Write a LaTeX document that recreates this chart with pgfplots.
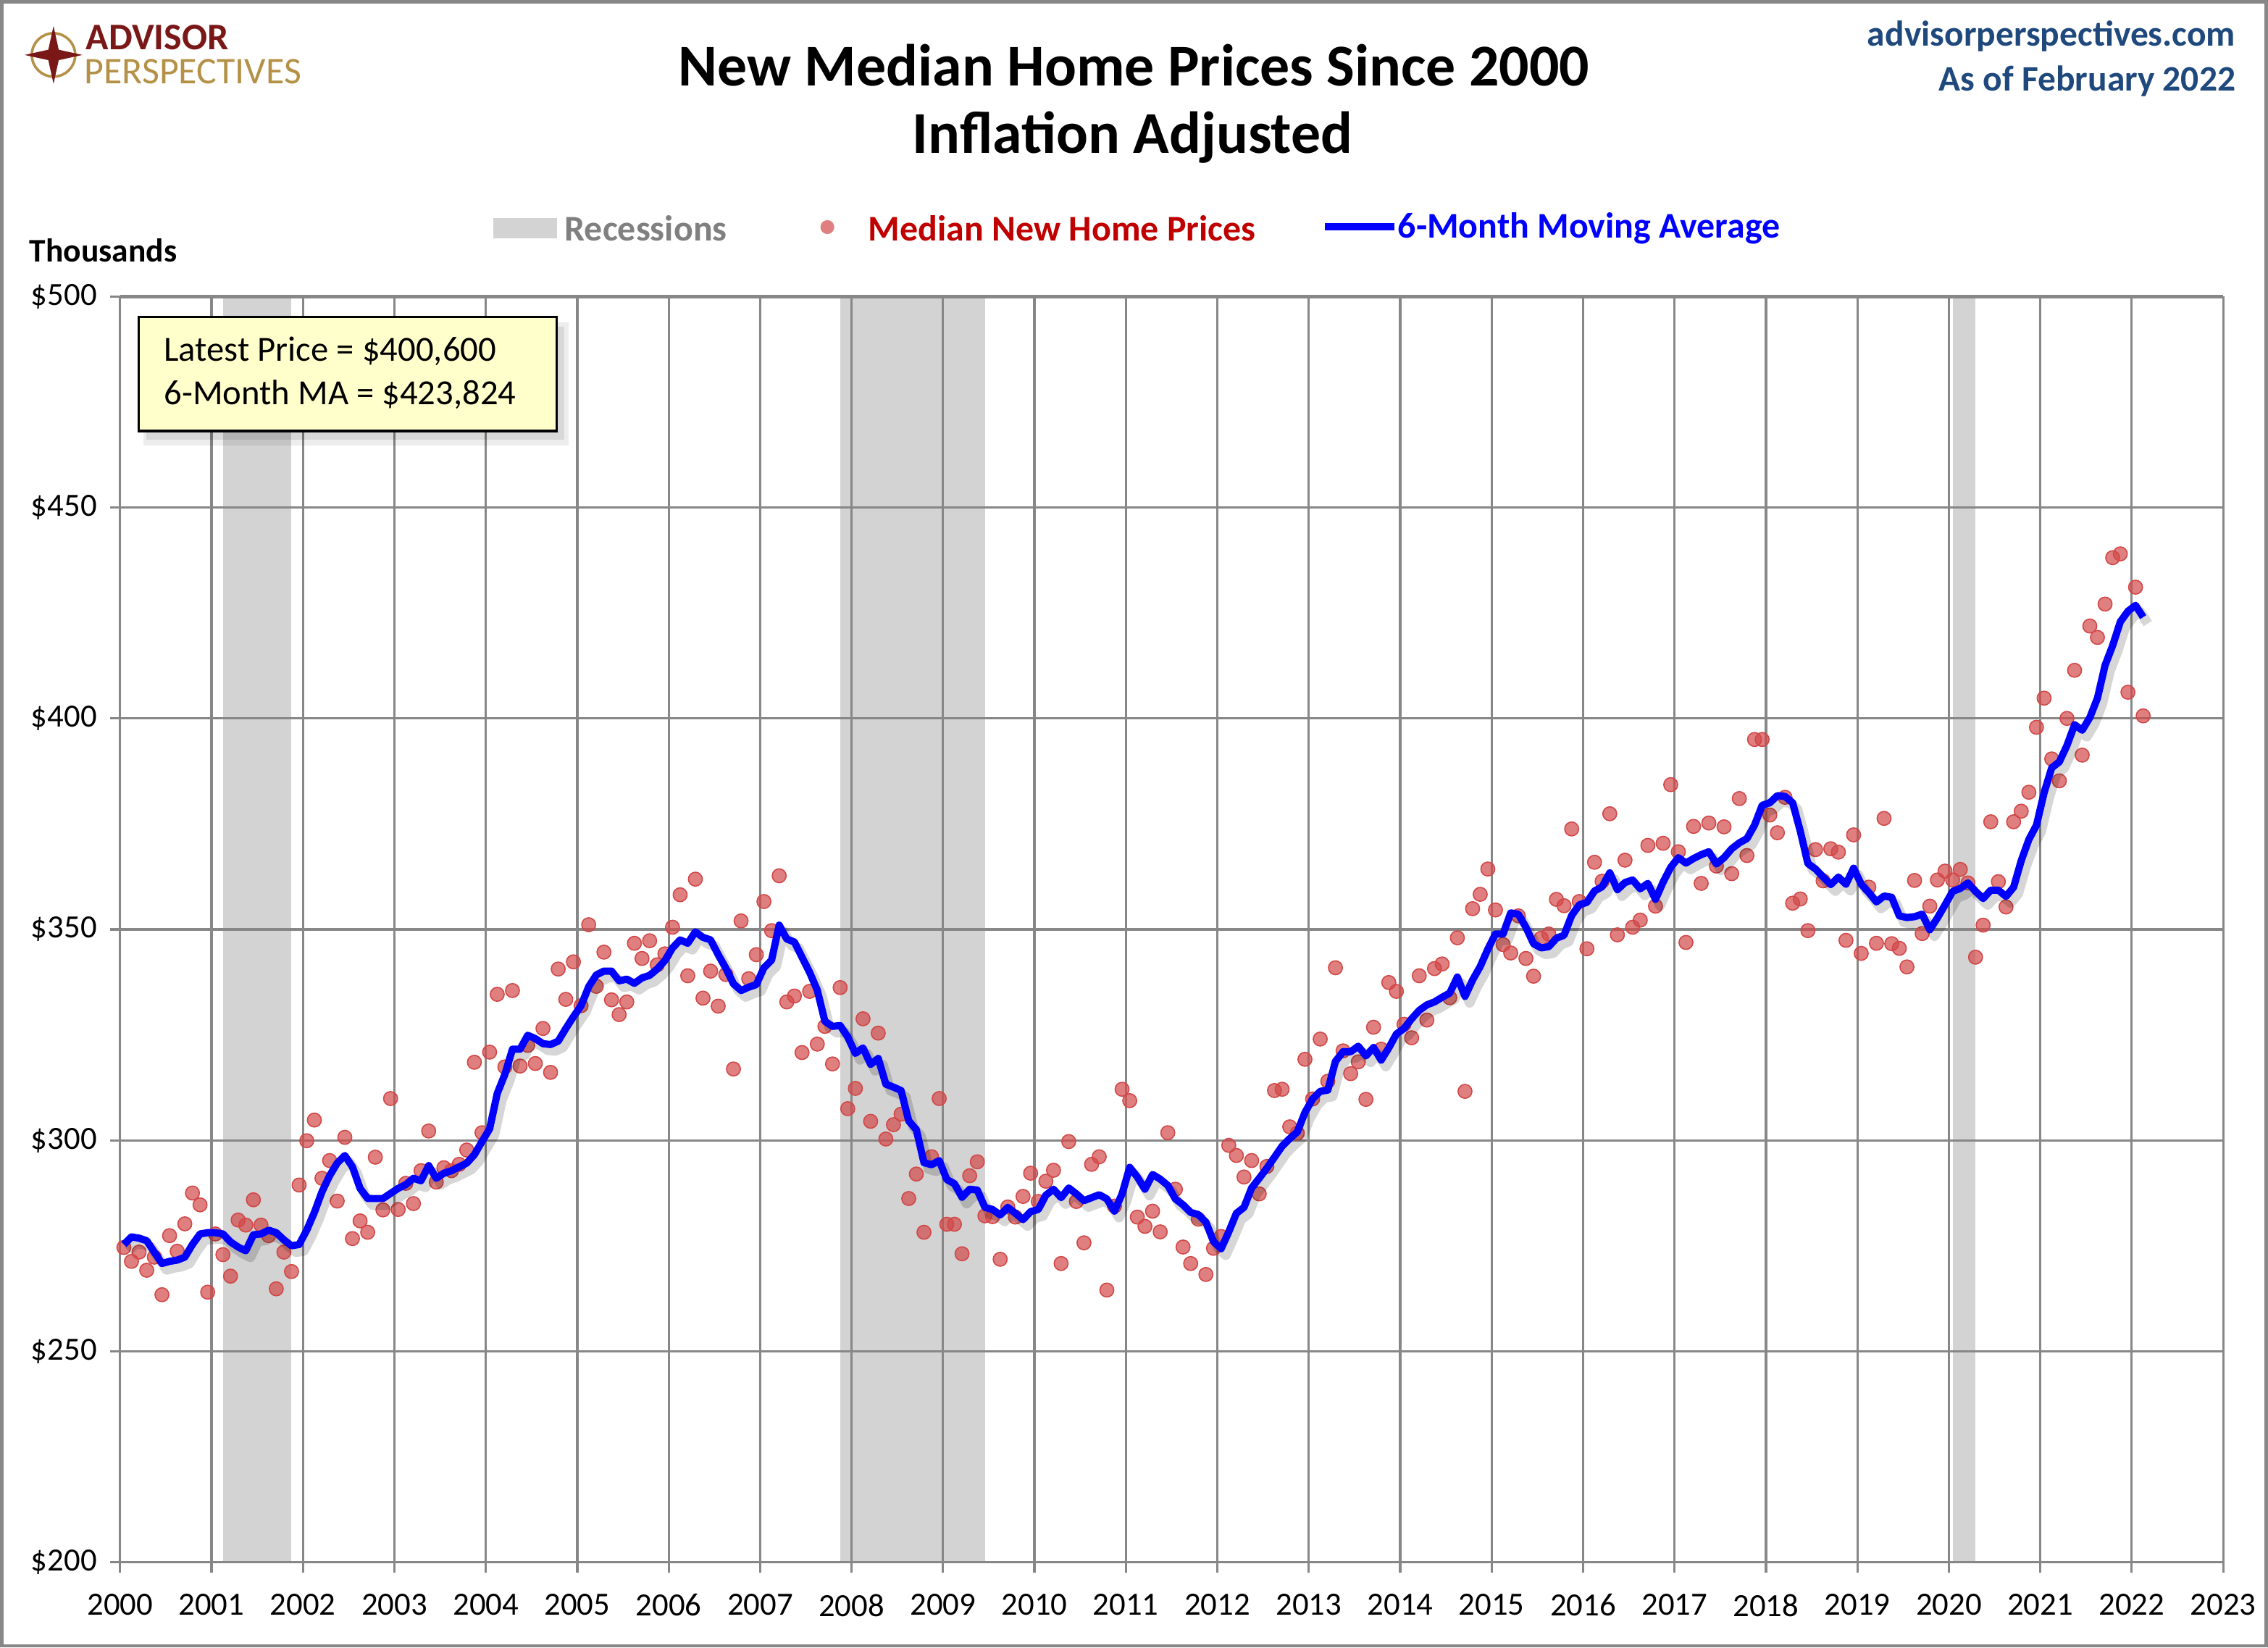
\documentclass[border=0pt]{standalone}
\usepackage{fontspec}
\setmainfont{Carlito}
\usepackage{pgfplots}
\usepackage{pgfplotstable}
\pgfplotsset{compat=1.18}
\definecolor{gridgray}{RGB}{135,135,135}
\definecolor{recgray}{RGB}{211,211,211}
\definecolor{dotred}{RGB}{210,72,72}
\definecolor{legred}{RGB}{192,0,0}
\definecolor{apblue}{RGB}{31,73,125}
\definecolor{boxyellow}{RGB}{255,255,204}
\definecolor{logored}{RGB}{122,24,24}
\definecolor{logogold}{RGB}{180,145,70}
\definecolor{leggray}{RGB}{128,128,128}

\pgfplotstableread[row sep=\\]{
y m p a\\
2000 1 274.6 275.3\\ 2000 2 271.3 277.1\\ 2000 3 273.5 276.8\\ 2000 4 269.2 276.2\\ 2000 5 272.3 273.5\\ 2000 6 263.4 270.8\\
2000 7 277.4 271.3\\ 2000 8 273.7 271.6\\ 2000 9 280.2 272.3\\ 2000 10 287.5 275.3\\ 2000 11 284.7 277.8\\ 2000 12 264.0 278.1\\
2001 1 277.8 278.1\\ 2001 2 272.9 277.8\\ 2001 3 267.8 275.9\\ 2001 4 281.1 274.7\\ 2001 5 279.9 273.8\\ 2001 6 285.9 277.6\\
2001 7 279.9 277.8\\ 2001 8 277.4 278.7\\ 2001 9 264.8 278.1\\ 2001 10 273.5 276.4\\ 2001 11 268.9 275.0\\ 2001 12 289.4 275.3\\
2002 1 299.9 278.7\\ 2002 2 304.8 282.9\\ 2002 3 291.0 287.8\\ 2002 4 295.2 291.6\\ 2002 5 285.6 294.6\\ 2002 6 300.7 296.4\\
2002 7 276.7 293.7\\ 2002 8 280.9 288.6\\ 2002 9 278.2 286.2\\ 2002 10 296.0 286.2\\ 2002 11 283.5 286.2\\ 2002 12 309.9 287.4\\
2003 1 283.6 288.6\\ 2003 2 289.8 289.5\\ 2003 3 285.0 291.0\\ 2003 4 292.8 290.4\\ 2003 5 302.2 294.0\\ 2003 6 290.1 291.0\\
2003 7 293.5 292.2\\ 2003 8 292.8 292.8\\ 2003 9 294.3 293.7\\ 2003 10 297.7 294.6\\ 2003 11 318.5 296.6\\ 2003 12 301.8 299.7\\
2004 1 320.9 302.7\\ 2004 2 334.6 311.1\\ 2004 3 317.4 315.6\\ 2004 4 335.5 321.6\\ 2004 5 317.6 321.6\\ 2004 6 322.5 324.9\\
2004 7 318.2 324.1\\ 2004 8 326.5 322.9\\ 2004 9 316.1 322.7\\ 2004 10 340.6 323.5\\ 2004 11 333.4 326.5\\ 2004 12 342.3 329.3\\
2005 1 331.9 331.9\\ 2005 2 351.1 336.4\\ 2005 3 336.5 339.2\\ 2005 4 344.6 340.1\\ 2005 5 333.3 340.1\\ 2005 6 329.8 337.8\\
2005 7 332.8 338.2\\ 2005 8 346.7 337.2\\ 2005 9 343.1 338.5\\ 2005 10 347.3 339.1\\ 2005 11 341.6 340.6\\ 2005 12 344.2 342.6\\
2006 1 350.5 345.6\\ 2006 2 358.2 347.5\\ 2006 3 339.0 346.7\\ 2006 4 361.9 349.4\\ 2006 5 333.7 348.1\\ 2006 6 340.1 347.5\\
2006 7 331.8 344.0\\ 2006 8 339.3 340.8\\ 2006 9 316.9 337.1\\ 2006 10 352.0 335.5\\ 2006 11 338.3 336.3\\ 2006 12 344.0 336.9\\
2007 1 356.6 340.9\\ 2007 2 349.7 342.7\\ 2007 3 362.7 351.0\\ 2007 4 332.8 347.7\\ 2007 5 334.2 347.0\\ 2007 6 320.8 343.4\\
2007 7 335.3 339.8\\ 2007 8 322.8 335.6\\ 2007 9 327.0 328.2\\ 2007 10 318.1 327.0\\ 2007 11 336.2 327.2\\ 2007 12 307.5 324.5\\
2008 1 312.3 320.6\\ 2008 2 328.8 321.9\\ 2008 3 304.5 318.0\\ 2008 4 325.4 319.4\\ 2008 5 300.3 313.3\\ 2008 6 303.7 312.6\\
2008 7 306.2 311.8\\ 2008 8 286.2 304.6\\ 2008 9 292.0 302.5\\ 2008 10 278.2 294.7\\ 2008 11 296.1 294.2\\ 2008 12 309.9 295.2\\
2009 1 280.1 290.7\\ 2009 2 280.1 289.7\\ 2009 3 273.1 286.5\\ 2009 4 291.6 288.4\\ 2009 5 294.9 288.2\\ 2009 6 282.1 284.1\\
2009 7 281.9 283.6\\ 2009 8 271.8 282.3\\ 2009 9 284.2 284.1\\ 2009 10 281.8 282.7\\ 2009 11 286.7 281.2\\ 2009 12 292.2 283.1\\
2010 1 285.5 283.6\\ 2010 2 290.3 287.0\\ 2010 3 292.9 288.4\\ 2010 4 270.8 286.4\\ 2010 5 299.7 288.7\\ 2010 6 285.5 287.3\\
2010 7 275.7 285.7\\ 2010 8 294.3 286.4\\ 2010 9 296.1 287.1\\ 2010 10 264.5 286.1\\ 2010 11 284.4 283.2\\ 2010 12 312.1 287.3\\
2011 1 309.4 293.6\\ 2011 2 281.8 291.3\\ 2011 3 279.6 288.4\\ 2011 4 283.2 291.9\\ 2011 5 278.3 290.8\\ 2011 6 301.8 289.3\\
2011 7 288.4 286.1\\ 2011 8 274.7 284.7\\ 2011 9 270.8 282.9\\ 2011 10 281.3 282.4\\ 2011 11 268.2 280.6\\ 2011 12 274.4 276.0\\
2012 1 277.2 274.3\\ 2012 2 298.8 278.3\\ 2012 3 296.4 282.7\\ 2012 4 291.3 284.1\\ 2012 5 295.2 288.7\\ 2012 6 287.3 291.0\\
2012 7 293.8 293.4\\ 2012 8 311.8 296.0\\ 2012 9 312.1 298.6\\ 2012 10 303.2 300.4\\ 2012 11 301.7 302.0\\ 2012 12 319.2 306.6\\
2013 1 309.8 309.8\\ 2013 2 324.0 311.6\\ 2013 3 314.0 311.9\\ 2013 4 340.9 318.7\\ 2013 5 321.2 321.0\\ 2013 6 315.8 321.0\\
2013 7 318.6 322.3\\ 2013 8 309.7 320.0\\ 2013 9 326.8 322.0\\ 2013 10 321.6 319.0\\ 2013 11 337.4 321.9\\ 2013 12 335.3 325.2\\
2014 1 327.5 326.5\\ 2014 2 324.3 328.8\\ 2014 3 339.0 330.8\\ 2014 4 328.5 332.1\\ 2014 5 340.7 332.8\\ 2014 6 341.8 333.9\\
2014 7 333.8 334.9\\ 2014 8 348.0 338.7\\ 2014 9 311.6 334.1\\ 2014 10 354.9 338.0\\ 2014 11 358.3 341.2\\ 2014 12 364.3 345.3\\
2015 1 354.6 348.9\\ 2015 2 346.4 348.9\\ 2015 3 344.4 353.9\\ 2015 4 353.2 353.6\\ 2015 5 343.1 350.5\\ 2015 6 338.9 346.6\\
2015 7 347.9 345.6\\ 2015 8 348.9 345.9\\ 2015 9 357.1 347.9\\ 2015 10 355.6 348.6\\ 2015 11 373.8 353.3\\ 2015 12 356.6 355.8\\
2016 1 345.4 356.4\\ 2016 2 365.9 359.1\\ 2016 3 361.4 360.1\\ 2016 4 377.4 363.4\\ 2016 5 348.7 359.4\\ 2016 6 366.4 361.1\\
2016 7 350.5 361.7\\ 2016 8 352.2 359.6\\ 2016 9 369.9 360.9\\ 2016 10 355.5 357.1\\ 2016 11 370.4 361.2\\ 2016 12 384.3 364.7\\
2017 1 368.4 367.0\\ 2017 2 346.9 365.7\\ 2017 3 374.4 366.8\\ 2017 4 360.9 367.7\\ 2017 5 375.2 368.4\\ 2017 6 365.0 365.5\\
2017 7 374.3 367.0\\ 2017 8 363.2 369.1\\ 2017 9 381.0 370.5\\ 2017 10 367.5 371.5\\ 2017 11 395.0 374.7\\ 2017 12 395.0 379.4\\
2018 1 377.1 380.0\\ 2018 2 372.9 381.7\\ 2018 3 381.3 381.5\\ 2018 4 356.2 380.0\\ 2018 5 357.2 373.3\\ 2018 6 349.7 365.6\\
2018 7 368.9 364.3\\ 2018 8 361.5 362.4\\ 2018 9 369.1 360.6\\ 2018 10 368.3 362.4\\ 2018 11 347.4 360.7\\ 2018 12 372.4 364.5\\
2019 1 344.3 360.7\\ 2019 2 360.0 358.7\\ 2019 3 346.7 356.5\\ 2019 4 376.3 357.9\\ 2019 5 346.6 357.6\\ 2019 6 345.5 353.2\\
2019 7 341.1 352.8\\ 2019 8 361.6 353.0\\ 2019 9 349.0 353.6\\ 2019 10 355.5 349.9\\ 2019 11 361.7 352.7\\ 2019 12 363.8 355.8\\
2020 1 361.7 359.0\\ 2020 2 364.2 359.7\\ 2020 3 361.0 361.0\\ 2020 4 343.4 359.0\\ 2020 5 351.0 357.3\\ 2020 6 375.5 359.3\\
2020 7 361.3 359.3\\ 2020 8 355.3 357.8\\ 2020 9 375.5 360.0\\ 2020 10 378.0 366.3\\ 2020 11 382.5 371.3\\ 2020 12 397.9 374.7\\
2021 1 404.8 382.4\\ 2021 2 390.4 388.3\\ 2021 3 385.2 389.7\\ 2021 4 400.0 393.6\\ 2021 5 411.4 398.5\\ 2021 6 391.3 397.2\\
2021 7 421.9 400.2\\ 2021 8 419.2 404.8\\ 2021 9 427.1 412.6\\ 2021 10 438.1 417.3\\ 2021 11 439.0 422.9\\ 2021 12 406.2 425.4\\
2022 1 431.1 426.8\\ 2022 2 400.6 424.0\\
}\hp

\newcommand{\D}[2]{({(#1)*0.5-41.5},{540-(#2)*0.5})}

\begin{document}
\begin{tikzpicture}[x=1pt,y=1pt]
\useasboundingbox (-41.5,-29.5) rectangle (742.5,540);
\draw[gridgray, line width=1.2pt] (-40.9,-28.9) rectangle (741.9,539.4);

% recession bands (drawn first, below the grid)
\begin{axis}[
  at={(0,0)}, anchor=south west,
  scale only axis, width=727pt, height=437.5pt,
  xmin=2000, xmax=2023, ymin=200, ymax=500,
  hide axis,
]
\addplot[draw=none, fill=recgray] coordinates {(2001.125,200) (2001.872,200) (2001.872,500) (2001.125,500)} -- cycle;
\addplot[draw=none, fill=recgray] coordinates {(2007.875,200) (2009.458,200) (2009.458,500) (2007.875,500)} -- cycle;
\addplot[draw=none, fill=recgray] coordinates {(2020.042,200) (2020.292,200) (2020.292,500) (2020.042,500)} -- cycle;
\end{axis}

\begin{axis}[
  at={(0,0)}, anchor=south west,
  scale only axis, width=727pt, height=437.5pt,
  xmin=2000, xmax=2023, ymin=200, ymax=500,
  xtick={2000,2001,...,2023},
  xticklabels={2000,2001,2002,2003,2004,2005,2006,2007,2008,2009,2010,2011,2012,2013,2014,2015,2016,2017,2018,2019,2020,2021,2022,2023},
  ytick={200,250,300,350,400,450,500},
  yticklabels={\$200,\$250,\$300,\$350,\$400,\$450,\$500},
  grid=major,
  grid style={gridgray, line width=0.8pt},
  axis line style={draw=none},
  tick style={gridgray, line width=0.8pt},
  major tick length=3.5pt,
  tick align=outside,
  xtick pos=bottom, ytick pos=left,
  /pgf/number format/assume math mode=true,
  tick label style={font=\fontsize{11.2}{13}\selectfont, black},
  xticklabel style={yshift=-4pt},
  yticklabel style={xshift=-1pt},
]
\addplot[only marks, mark=*, mark size=2.4pt, color=dotred, draw=none,
  mark options={solid, draw=none, fill=dotred, fill opacity=0.7}]
  table[x expr=\thisrow{y}+(\thisrow{m}-0.5)/12, y=p]{\hp};
\end{axis}

% soft shadow of the moving-average line
\begin{axis}[
  at={(1.6pt,-2.2pt)}, anchor=south west,
  scale only axis, width=727pt, height=437.5pt,
  xmin=2000, xmax=2023, ymin=200, ymax=500,
  hide axis,
]
\addplot[black, opacity=0.16, line width=3.4pt, line join=round, mark=none]
  table[x expr=\thisrow{y}+(\thisrow{m}-0.5)/12, y=a]{\hp};
\end{axis}

\begin{axis}[
  at={(0,0)}, anchor=south west,
  scale only axis, width=727pt, height=437.5pt,
  xmin=2000, xmax=2023, ymin=200, ymax=500,
  hide axis,
]
\addplot[blue, line width=2.5pt, line join=round, mark=none]
  table[x expr=\thisrow{y}+(\thisrow{m}-0.5)/12, y=a]{\hp};
\end{axis}
\draw[gridgray, line width=1.4pt] (0,437.5) -- (727,437.5);

% annotation box
\fill[black, opacity=0.07] \D{99}{223} rectangle \D{393}{308};
\fill[black, opacity=0.09] \D{101}{226} rectangle \D{390}{304};
\filldraw[fill=boxyellow, draw=black, line width=0.8pt] \D{96}{219} rectangle \D{385}{298};
\node[anchor=west, inner sep=0, font=\fontsize{12.2}{14}\selectfont] at \D{113}{243} {Latest Price = \$400,600};
\node[anchor=west, inner sep=0, font=\fontsize{12.2}{14}\selectfont] at \D{113}{273} {6-Month MA = \$423,824};

% titles
\node[font=\fontsize{20.5}{24}\selectfont\bfseries] at \D{784}{45} {New Median Home Prices Since 2000};
\node[font=\fontsize{20.5}{24}\selectfont\bfseries] at \D{783}{95} {Inflation Adjusted};
\node[anchor=east, inner sep=0, font=\fontsize{12.4}{14}\selectfont\bfseries, text=apblue] at \D{1546}{25} {advisorperspectives.com};
\node[anchor=east, inner sep=0, font=\fontsize{12.4}{14}\selectfont\bfseries, text=apblue] at \D{1546}{56} {As of February 2022};
\node[anchor=west, inner sep=0, font=\fontsize{11.4}{13}\selectfont\bfseries] at \D{20}{173} {Thousands};

% legend
\fill[recgray] \D{341}{151} rectangle \D{385}{165};
\node[anchor=west, inner sep=0, font=\fontsize{12.5}{14}\selectfont\bfseries, text=leggray] at \D{390}{158} {Recessions};
\fill[dotred, opacity=0.7] \D{572}{157} circle (2.4pt);
\node[anchor=west, inner sep=0, font=\fontsize{12.5}{14}\selectfont\bfseries, text=legred] at \D{600}{158} {Median New Home Prices};
\draw[blue, line width=2.5pt] \D{916}{157} -- \D{964}{157};
\node[anchor=west, inner sep=0, font=\fontsize{12.5}{14}\selectfont\bfseries, text=blue] at \D{966}{158} {6-Month Moving Average};

% logo
\draw[logogold, line width=0.9pt] \D{37}{38} circle (7.5pt);
\fill[logored] ({37*0.5-41.5},{540-38*0.5+10}) -- ++(-1.8,-8.2) -- ++(-8.2,-1.8) -- ++(8.2,-1.8) -- ++(1.8,-8.2) -- ++(1.8,8.2) -- ++(8.2,1.8) -- ++(-8.2,1.8) -- cycle;
\node[anchor=west, inner sep=0, font=\fontsize{13}{15}\selectfont\bfseries, text=logored] at \D{59}{26} {ADVISOR};
\node[anchor=west, inner sep=0, font=\fontsize{13}{15}\selectfont, text=logogold] at \D{58}{49.5} {PERSPECTIVES};
\end{tikzpicture}
\end{document}
